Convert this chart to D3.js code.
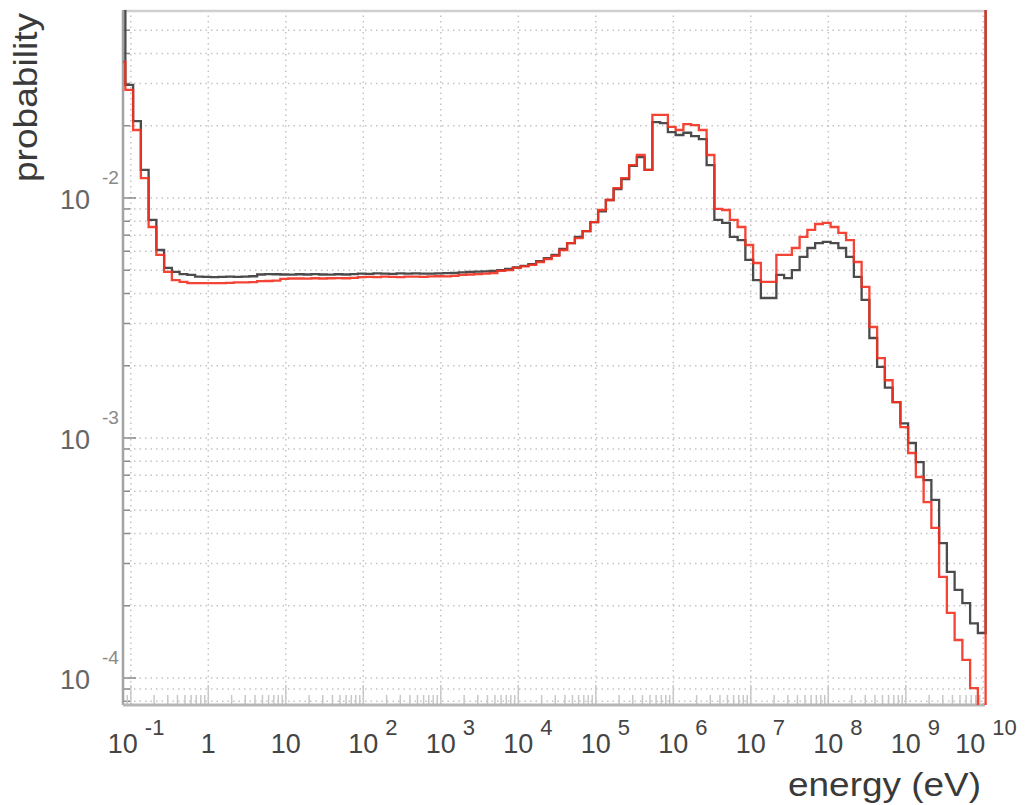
<!DOCTYPE html>
<html>
<head>
<meta charset="utf-8">
<script src="https://cdn.jsdelivr.net/npm/d3@7"></script>
<style>
  body { margin: 0; background: #fff; }
  svg { display: block; }
</style>
</head>
<body>
<div id="container"></div>
<script>
const width = 1029, height = 805;
const frame = { left: 123, right: 985, top: 10, bottom: 705 };

// bins in log10(energy): first low edge and width (one entry per bin below)
const binStart = -1.17, binStep = 0.1;

const blackValues = [
  0.1, 0.0296, 0.0209, 0.0131, 0.0081, 0.00607, 0.00511, 0.00492, 0.00482, 0.00478,
  0.0047, 0.00469, 0.00468, 0.00469, 0.0047, 0.00469, 0.0047, 0.00472, 0.0048, 0.00482,
  0.00481, 0.0048, 0.00479, 0.00481, 0.0048, 0.00482, 0.0048, 0.00479, 0.00481, 0.0048,
  0.00482, 0.00484, 0.00483, 0.00485, 0.00484, 0.00483, 0.00485, 0.00484, 0.00485, 0.00484,
  0.00484, 0.00485, 0.00486, 0.00487, 0.0049, 0.00492, 0.00493, 0.00495, 0.00497, 0.00501,
  0.00506, 0.00514, 0.00521, 0.0053, 0.00546, 0.00562, 0.00579, 0.00613, 0.00649, 0.00688,
  0.00728, 0.00794, 0.0088, 0.00981, 0.0109, 0.012, 0.0136, 0.0148, 0.0131, 0.0207,
  0.0205, 0.0188, 0.0183, 0.0187, 0.0181, 0.0176, 0.0137, 0.0081, 0.00787, 0.00688,
  0.00668, 0.00552, 0.00455, 0.00383, 0.00383, 0.00478, 0.00464, 0.00501, 0.00568, 0.00619,
  0.00649, 0.00656, 0.00649, 0.00619, 0.00568, 0.00469, 0.00376, 0.00261, 0.00198, 0.00162,
  0.00141, 0.00115, 0.000953, 0.000794, 0.000668, 0.000552, 0.000365, 0.000277, 0.000233, 0.000205,
  0.000169, 0.000154, 0.1
];

const redValues = [
  0.0369, 0.0282, 0.0192, 0.0121, 0.00757, 0.00579, 0.00492, 0.00455, 0.00447, 0.00442,
  0.00442, 0.00442, 0.00442, 0.00442, 0.00443, 0.00445, 0.00445, 0.00446, 0.0045, 0.00451,
  0.00453, 0.0046, 0.00462, 0.00462, 0.00461, 0.00463, 0.00462, 0.00463, 0.00464, 0.00463,
  0.00465, 0.00468, 0.00469, 0.00468, 0.0047, 0.00469, 0.00468, 0.0047, 0.0047, 0.00469,
  0.00471, 0.00472, 0.00471, 0.00474, 0.00478, 0.0048, 0.00482, 0.00484, 0.00487, 0.00497,
  0.00501, 0.00511, 0.00519, 0.00526, 0.00541, 0.00557, 0.00574, 0.00607, 0.00649, 0.00681,
  0.00728, 0.00794, 0.00891, 0.00981, 0.011, 0.0121, 0.0137, 0.0151, 0.0131, 0.0222,
  0.0222, 0.0198, 0.0192, 0.0203, 0.0201, 0.0192, 0.0151, 0.009, 0.00891, 0.0081,
  0.00757, 0.00637, 0.00536, 0.00447, 0.00447, 0.00579, 0.00579, 0.00619, 0.00688, 0.00736,
  0.00779, 0.00787, 0.00757, 0.00715, 0.00668, 0.00541, 0.00426, 0.0029, 0.00215, 0.00174,
  0.00141, 0.00111, 0.000866, 0.000688, 0.000541, 0.000422, 0.000264, 0.000187, 0.000144, 0.000119,
  0.0000908, 0.000065, 0.1
];

const xDecades = [-1, 0, 1, 2, 3, 4, 5, 6, 7, 8, 9, 10];
const yDecades = [-4, -3, -2];
const xLabelShift = { "-1": -8, "10": -13 };

const xScale = d3.scaleLog()
  .domain([Math.pow(10, -1.1006), Math.pow(10, 10.022)])
  .range([frame.left, frame.right]);
const yScale = d3.scaleLog()
  .domain([7.72e-5, 0.0607])
  .range([frame.bottom, frame.top]);

const svg = d3.select("#container")
  .append("svg")
  .attr("width", width)
  .attr("height", height)
  .style("font-family", "'Liberation Sans', Arial, sans-serif");

svg.append("clipPath").attr("id", "plotClip")
  .append("rect")
  .attr("x", frame.left).attr("y", frame.top)
  .attr("width", frame.right - frame.left + 3)
  .attr("height", frame.bottom - frame.top);

// horizontal grid at every 1..9 x 10^n
const [yMin, yMax] = yScale.domain();
const yGrid = [];
for (let d = -5; d <= -1; d++) {
  for (let m = 1; m <= 9; m++) {
    const v = m * Math.pow(10, d);
    if (v >= yMin && v <= yMax) yGrid.push({ v, major: m === 1 });
  }
}

const grid = svg.append("g").attr("stroke", "#c4c4c4").attr("stroke-width", 1.5)
  .attr("stroke-dasharray", "1.5,4");

grid.selectAll(".hgrid")
  .data(yGrid)
  .enter()
  .append("line")
  .attr("class", "hgrid")
  .attr("x1", frame.left).attr("x2", frame.right)
  .attr("y1", d => yScale(d.v)).attr("y2", d => yScale(d.v));

grid.selectAll(".vgrid")
  .data(xDecades)
  .enter()
  .append("line")
  .attr("class", "vgrid")
  .attr("x1", d => xScale(Math.pow(10, d))).attr("x2", d => xScale(Math.pow(10, d)))
  .attr("y1", frame.top).attr("y2", frame.bottom);

// ticks (inside the frame, ROOT style)
const ticks = svg.append("g");

ticks.selectAll(".ytick")
  .data(yGrid)
  .enter()
  .append("line")
  .attr("x1", frame.left)
  .attr("x2", d => frame.left + (d.major ? 13 : 7))
  .attr("y1", d => yScale(d.v)).attr("y2", d => yScale(d.v))
  .attr("stroke", "#8a8a8a").attr("stroke-width", 1.5);

const xMinor = [];
xDecades.forEach(d => {
  for (let m = 1; m <= 9; m++) {
    const v = m * Math.pow(10, d - 1);
    if (v >= xScale.domain()[0] && v <= xScale.domain()[1]) xMinor.push({ v, major: m === 1 });
  }
});
ticks.selectAll(".xtick")
  .data(xMinor)
  .enter()
  .append("line")
  .attr("x1", d => xScale(d.v)).attr("x2", d => xScale(d.v))
  .attr("y1", frame.bottom)
  .attr("y2", d => frame.bottom - (d.major ? 20 : 10))
  .attr("stroke", "#c8c8c8").attr("stroke-width", 1.5);

// frame
svg.append("line")
  .attr("x1", frame.left).attr("x2", frame.right)
  .attr("y1", frame.top + 1).attr("y2", frame.top + 1)
  .attr("stroke", "#cfcfcf").attr("stroke-width", 2.5);
svg.append("line")
  .attr("x1", frame.left).attr("x2", frame.left)
  .attr("y1", frame.top).attr("y2", frame.bottom)
  .attr("stroke", "#a3a3a3").attr("stroke-width", 2.5);
svg.append("line")
  .attr("x1", frame.left).attr("x2", frame.right)
  .attr("y1", frame.bottom).attr("y2", frame.bottom)
  .attr("stroke", "#b5b5b5").attr("stroke-width", 3);

// histograms
const edges = d3.range(redValues.length + 1).map(i => Math.pow(10, binStart + i * binStep));

const histLine = d3.line()
  .x(d => xScale(d[0]))
  .y(d => yScale(d[1]))
  .curve(d3.curveStepAfter);

function histPoints(vals) {
  const pts = vals.map((v, i) => [edges[i], v]);
  pts.push([edges[vals.length], vals[vals.length - 1]]);
  return pts;
}

const plot = svg.append("g").attr("clip-path", "url(#plotClip)");

plot.append("path")
  .attr("d", histLine(histPoints(blackValues)))
  .attr("fill", "none")
  .attr("stroke", "#4b4b4b")
  .attr("stroke-width", 2.3);

plot.append("path")
  .attr("d", histLine(histPoints(redValues)))
  .attr("fill", "none")
  .attr("stroke", "#f3301f")
  .attr("stroke-width", 2.3)
  .attr("stroke-opacity", 0.9);

// x tick labels
const xLab = svg.append("g").attr("fill", "#444");
xDecades.forEach(d => {
  const cx = xScale(Math.pow(10, d)) + (xLabelShift[d] || 0);
  const base = d === 0 ? "1" : "10";
  const t = xLab.append("text")
    .attr("x", cx).attr("y", 753)
    .attr("text-anchor", "middle")
    .attr("font-size", 27)
    .text(base);
  if (d !== 0 && d !== 1) {
    const w = t.node().getComputedTextLength();
    xLab.append("text")
      .attr("x", cx + w / 2 + 7).attr("y", 735)
      .attr("font-size", 22)
      .text(String(d));
  }
});

// y tick labels
const yLab = svg.append("g").attr("fill", "#666");
yDecades.forEach(d => {
  const y = yScale(Math.pow(10, d));
  yLab.append("text")
    .attr("x", 75).attr("y", y + 11)
    .attr("text-anchor", "middle")
    .attr("font-size", 27)
    .text("10");
  yLab.append("text")
    .attr("x", 102).attr("y", y - 14)
    .attr("font-size", 19)
    .attr("fill", "#888")
    .text(String(d));
});

// axis titles
svg.append("text")
  .attr("x", 981).attr("y", 796)
  .attr("text-anchor", "end")
  .attr("font-size", 33)
  .attr("fill", "#3a3a3a")
  .attr("textLength", 193)
  .attr("lengthAdjust", "spacingAndGlyphs")
  .text("energy (eV)");

svg.append("text")
  .attr("transform", "translate(37,13) rotate(-90)")
  .attr("text-anchor", "end")
  .attr("font-size", 34)
  .attr("fill", "#3a3a3a")
  .attr("textLength", 169)
  .attr("lengthAdjust", "spacingAndGlyphs")
  .text("probability");
</script>
</body>
</html>
